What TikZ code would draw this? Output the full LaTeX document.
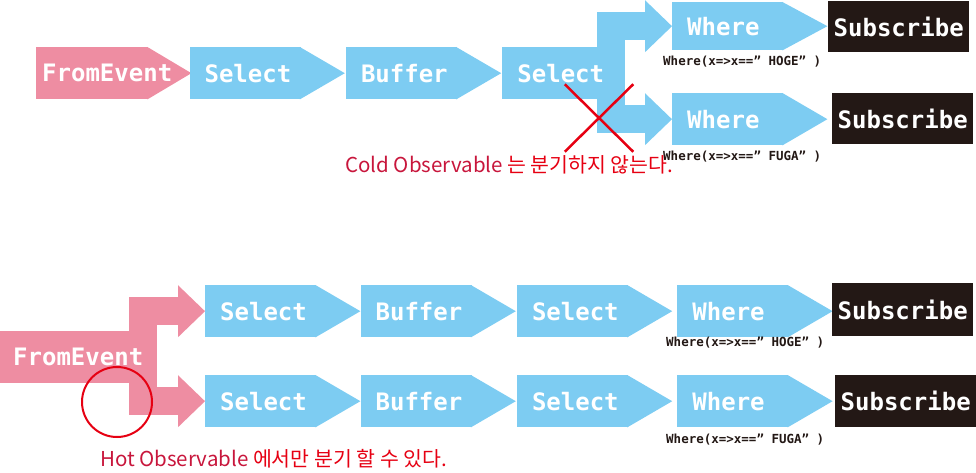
\documentclass[tikz,border=0pt]{standalone}
\usepackage{fontspec}
\setmonofont{DejaVu Sans Mono}
\newfontfamily\krfont{Noto Sans CJK KR}
\usetikzlibrary{positioning,arrows.meta,calc,shapes.misc,backgrounds}
\definecolor{sky}{HTML}{7DCCF2}
\definecolor{rose}{HTML}{EE8DA2}
\definecolor{ink}{HTML}{231815}
\definecolor{alert}{HTML}{E60012}
\definecolor{crimson}{HTML}{C8163C}

\begin{document}
\begin{tikzpicture}[x=1pt, y=-1pt,
      blk/.style={fill=sky, text=white, anchor=north west, minimum height=52pt, inner xsep=15pt, inner ysep=0pt,
                  text width=81pt, align=left, font=\ttfamily\bfseries\fontsize{24}{26}\selectfont},
      fromblk/.style={blk, fill=rose},
      subblk/.style={fill=ink, text=white, anchor=north west, minimum width=141pt, minimum height=52pt, inner sep=0pt,
                     font=\ttfamily\bfseries\fontsize{24}{26}\selectfont},
      code/.style={anchor=west, inner sep=0pt, text=ink, font=\ttfamily\bfseries\fontsize{12.5}{14}\selectfont},
      note/.style={anchor=west, inner sep=0pt, text=alert, font=\krfont\fontsize{20.5}{24}\selectfont},
      branch/.style={sky, line width=28pt, -{Triangle[length=27pt, width=52pt, line width=0pt]}},
      redmark/.style={draw=alert, line width=2.5pt, inner sep=0pt}]
    \useasboundingbox (0,0) rectangle (976,473);
    \node[fromblk, inner xsep=6pt, text width=100pt] (fe1) at (36,47) {FromEvent};
    \node[blk, right=41pt of fe1] (se1) {Select};
    \node[blk, right=45pt of se1] (bu1) {Buffer};
    \node[blk, right=45pt of bu1, text width=88pt] (se2) {Select};
    \node[blk, minimum height=48pt] (wh1) at (672,2) {Where};
    \node[blk] (wh2) at (672,93) {Where};
    \node[subblk, minimum height=51pt] (sb1) at (828,1) {Subscribe};
    \node[subblk, minimum height=51pt] (sb2) at (832,93) {Subscribe};
    \node[fromblk, inner xsep=13pt, text width=127pt] (fe2) at (0,331) {FromEvent};
    \node[blk] (se3) at (205,285) {Select};
    \node[blk, right=44pt of se3] (bu3) {Buffer};
    \node[blk, right=45pt of bu3] (se4) {Select};
    \node[blk, right=49pt of se4] (wh3) {Where};
    \node[subblk, minimum height=53pt] (sb3) at (832,283) {Subscribe};
    \node[blk] (se5) at (205,375) {Select};
    \node[blk, right=44pt of se5] (bu5) {Buffer};
    \node[blk, right=45pt of bu5] (se6) {Select};
    \node[blk, right=49pt of se6] (wh4) {Where};
    \node[subblk] (sb4) at (835,375) {Subscribe};
    \begin{pgfonlayer}{background}
      \fill[rose] ($(fe1.north east)+(-1,0)$) -- ($(fe1.east)+(43,0)$) -- ($(fe1.south east)+(-1,0)$) -- cycle;
      \foreach \n in {se1,bu1,wh1,wh2,se3,bu3,se4,wh3,se5,bu5,se6,wh4}
        \fill[sky] ($(\n.north east)+(-1,0)$) -- ($(\n.east)+(44,0)$) -- ($(\n.south east)+(-1,0)$) -- cycle;
      \draw[branch] ($(se2.east)+(-10,0)$) |- (wh1.west);
      \draw[branch] ($(se2.east)+(-10,0)$) |- (wh2.west);
      \draw[branch, rose] ($(fe2.east)+(-10,0)$) |- (se3.west);
      \draw[branch, rose] ($(fe2.east)+(-10,0)$) |- (se5.west);
    \end{pgfonlayer}
    \node[code] (hoge1) at (663,62) {Where(x=>x==” HOGE” )};
    \node[code] (fuga1) at (663,157) {Where(x=>x==” FUGA” )};
    \node[code] (hoge2) at (666,343) {Where(x=>x==” HOGE” )};
    \node[code] (fuga2) at (666,440) {Where(x=>x==” FUGA” )};
    \node[redmark, cross out, minimum width=66pt, minimum height=65pt] (nobr) at (599,118) {};
    \node[redmark, circle, line width=2pt, minimum size=70pt] (canbr) at (117,402) {};
    \node[note] (cold) at (345,165) {\textcolor{crimson}{Cold Observable} 는 분기하지 않는다.};
    \node[note] (hot) at (100,459) {\textcolor{crimson}{Hot Observable} 에서만 분기 할 수 있다.};
  \end{tikzpicture}
\end{document}
